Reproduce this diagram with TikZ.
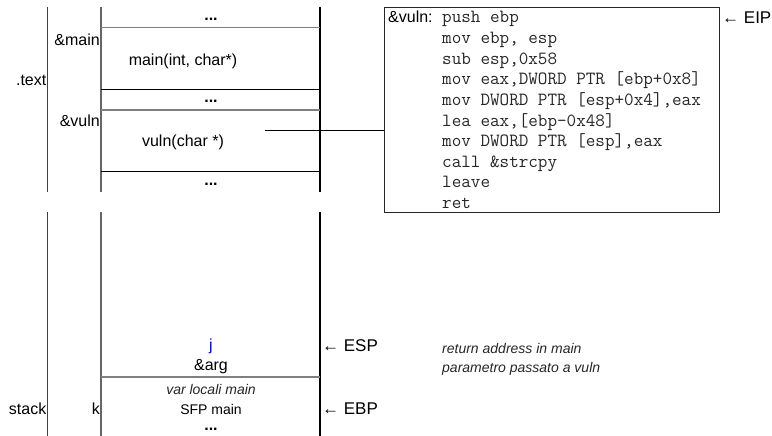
\documentclass[tikz,border=0pt]{standalone}
\usepackage{fontspec}
\setmainfont{Liberation Sans}
\begin{document}
\begin{tikzpicture}[x=1pt,y=-1pt,
  lbl/.style={inner sep=0pt,font=\fontsize{16}{19}\selectfont},
  small/.style={inner sep=0pt,font=\fontsize{14}{17}\selectfont},
  note/.style={inner sep=0pt,font=\fontsize{14}{17}\selectfont\itshape,text=black!85},
  asm/.style={inner sep=0pt,anchor=base west,font=\fontsize{18.6}{21}\ttfamily,text=black!85},
  dots/.style={inner sep=0pt,font=\fontsize{16}{19}\selectfont\bfseries},
  sep/.style={draw=black!50,line width=1.6pt},
  bound/.style={draw=black,line width=0.9pt},
  ptr/.style={inner sep=0pt,anchor=west,font=\fontsize{17}{20}\selectfont}]
\useasboundingbox (0,0) rectangle (772,436);

% columns of the memory map: .text segment and stack segment
\foreach \ya/\yb in {7/192, 212/436}{
  \draw[draw=black!75,line width=0.9pt] (47,\ya) -- (47,\yb);
  \draw[draw=black!60,line width=1.3pt] (101,\ya) -- (101,\yb);
  \draw[draw=black,line width=1.2pt] (320,\ya) -- (320,\yb);
}

% rows of the .text segment
\draw[sep] (101,27.7) -- (320,27.7);
\draw[bound] (101,89) -- (320,89);
\draw[sep] (101,110) -- (320,110);
\draw[bound] (101,171) -- (320,171);

% row of the stack
\draw[sep] (101,377) -- (320,377);

% labels of the .text segment
\node[lbl,anchor=east] (text) at (46.5,80) {.text};
\node[lbl,anchor=east] (amain) at (100,40) {\&main};
\node[lbl,anchor=east] (avuln) at (100,121) {\&vuln};
\node[lbl] (mainf) at (183,61) {main(int, char*)};
\node[lbl] (vulnf) at (183,142) {vuln(char *)};
\node[dots] (d1) at (211,19) {...};
\node[dots] (d2) at (211,101) {...};
\node[dots] (d3) at (211,184) {...};

% disassembly of vuln
\node[draw=black!85,line width=0.9pt,minimum width=335pt,minimum height=205pt,anchor=north west,inner sep=0pt] (code) at (384,7) {};
\node[inner sep=0pt,anchor=base west,font=\fontsize{16}{19}\selectfont] (codelbl) at (388,23) {\&vuln:};
\foreach \line [count=\i from 0] in {%
  push ebp,%
  mov ebp{,} esp,%
  sub esp{,}0x58,%
  mov eax{,}DWORD PTR [ebp+0x8],%
  mov DWORD PTR [esp+0x4]{,}eax,%
  lea eax{,}[ebp-0x48],%
  mov DWORD PTR [esp]{,}eax,%
  call \&strcpy,%
  leave,%
  ret}{
  \node[asm] (asm\i) at (442,23+20.6*\i) {\line};
}
\node[ptr] (eip) at (722,18) {← EIP};

% link from the function body to its code
\coordinate (vulnref) at (265,130);
\draw[line width=0.9pt] (vulnref) -- (code.west |- vulnref);

% stack contents
\node[lbl,text=blue!85!black] (j) at (211,346) {j};
\node[lbl] (arg) at (211,367) {\&arg};
\node[note] (locals) at (211,389) {var locali main};
\node[small] (sfp) at (211,409) {SFP main};
\node[dots] (d4) at (211,429) {...};
\node[lbl,anchor=east] (stack) at (46.5,409) {stack};
\node[lbl,anchor=east] (k) at (100,409) {k};

% register pointers and notes
\node[ptr] (esp) at (322,346) {← ESP};
\node[ptr] (ebp) at (322,409) {← EBP};
\node[note,anchor=west] (retaddr) at (442,348) {return address in main};
\node[note,anchor=west] (param) at (442,369) {parametro passato a vuln};
\end{tikzpicture}
\end{document}
